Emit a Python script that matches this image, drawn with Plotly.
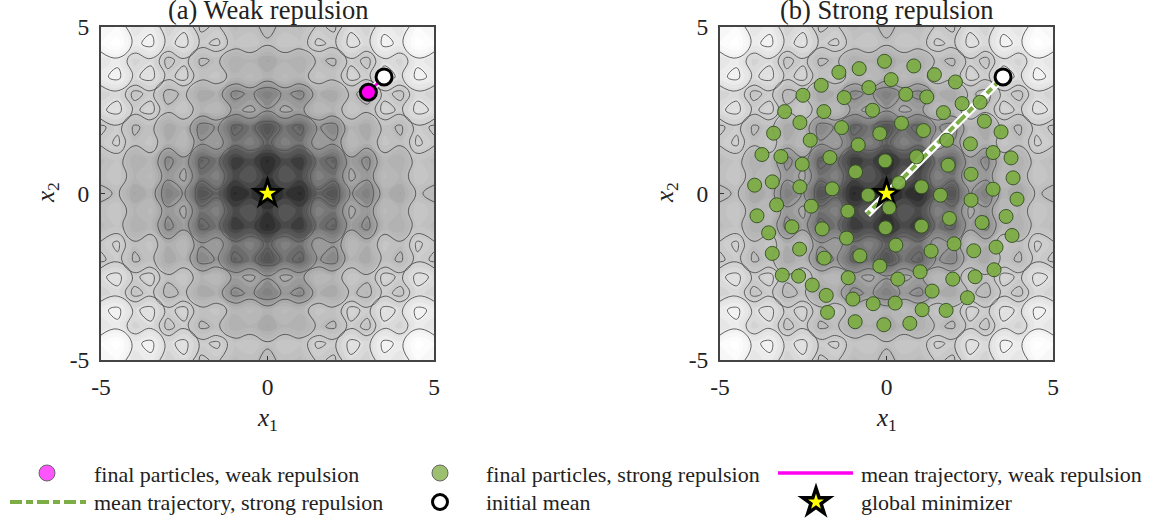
import plotly.graph_objects as go

# Background surface: NOT exact data. Hand-built estimate: grey anchors read by eye along the axes
# of the picture and combined by hand into one quadrant (x, y = 0, 0.5, ... 5), then mirrored
# because the picture is symmetric. Contour levels were chosen by eye to resemble the drawn lines.
half_axis = [0, 0.5, 1, 1.5, 2, 2.5, 3, 3.5, 4, 4.5, 5]
quadrant = [
    [50, 70, 60, 95, 85, 130, 112, 156, 145, 175, 166],
    [70, 90, 80, 115, 105, 150, 132, 169, 159, 187, 178],
    [60, 80, 70, 105, 95, 140, 122, 162, 153, 181, 172],
    [95, 115, 105, 140, 130, 166, 154, 184, 175, 203, 193],
    [85, 105, 95, 130, 120, 159, 147, 178, 169, 197, 187],
    [130, 150, 140, 166, 159, 187, 176, 206, 197, 224, 215],
    [112, 132, 122, 154, 147, 176, 165, 195, 185, 213, 204],
    [156, 169, 162, 184, 178, 206, 195, 224, 215, 243, 234],
    [145, 159, 153, 175, 169, 197, 185, 215, 206, 234, 224],
    [175, 187, 181, 203, 197, 224, 213, 243, 234, 262, 252],
    [166, 178, 172, 193, 187, 215, 204, 234, 224, 252, 243],
]
contour_levels = [92, 100, 128, 145, 172, 190, 200, 218, 238]
grid_axis = [-v for v in half_axis[:0:-1]] + half_axis
rows = [r[:0:-1] + r for r in quadrant]
grid_z = rows[:0:-1] + rows

initial_mean = ([3.5], [3.5])
minimizer = ([0], [0])
weak_final = ([3.03], [3.04])
weak_traj_x = [3.5, 3.03]
weak_traj_y = [3.5, 3.04]
strong_traj_x = [3.5, 0.0, -0.58]
strong_traj_y = [3.5, 0.0, -0.62]
strong_x = [-1.43, -0.82, -0.06, -1.96, -2.51, -1.27, -0.53, -3.06, -1.88, -0.42, -2.60, -1.35,
            -3.39, -0.20, -2.29, -0.85, -3.74, -3.17, -1.70, -2.53, -0.04, -0.93, -3.96, -3.43,
            -2.60, -1.63, -0.55, 0.82, 0.14, 1.44, 2.07, 0.58, 1.21, 2.27, 2.81, 1.71, 2.94,
            0.45, 1.11, 3.44, 1.81, 2.52, 3.20, 3.74, 0.90, 1.85, 2.54, 3.80, 0.37, 1.05, 3.20,
            1.62, -3.30, -3.89, -2.26, -1.16, -2.84, -1.93, -3.54, -1.20, -2.61, -3.43, -1.87,
            -0.80, -0.20, -3.13, -2.64, -1.15, -2.23, -1.81, -1.01, -0.40, -1.77, -0.94, -0.08,
            0.08, 2.54, 3.92, 3.59, 1.89, 2.87, 3.77, 1.05, 0.28, 1.34, 2.03, 2.62, 3.29, 1.01,
            3.23, 0.34, 1.99, 2.66, 1.37, 2.43, 0.26, 1.07, 1.79, 0.70, -0.03]
strong_y = [3.64, 3.75, 3.97, 3.25, 2.95, 2.88, 3.18, 2.46, 2.46, 2.50, 2.13, 1.98,
            1.81, 1.80, 1.60, 1.46, 1.17, 1.11, 1.08, 0.88, 0.98, 0.65, 0.25, 0.35,
            0.20, 0.14, -0.05, 3.83, 3.42, 3.57, 3.35, 2.98, 2.90, 2.70, 2.74, 2.43, 2.17,
            2.11, 1.89, 1.85, 1.60, 1.49, 1.23, 1.07, 1.10, 0.85, 0.58, 0.47, 0.32, 0.20, 0.13,
            -0.05, -0.34, -0.67, -0.38, -0.53, -1.00, -1.06, -1.18, -1.34, -1.67, -1.80, -1.94,
            -1.87, -2.18, -2.45, -2.48, -2.53, -2.75, -3.06, -3.17, -3.31, -3.57, -3.85, -3.94,
            -0.43, -0.20, -0.17, -0.69, -0.75, -0.87, -1.26, -0.98, -1.55, -1.73, -1.51, -1.72, -1.61, -2.35,
            -2.29, -2.57, -2.57, -2.50, -2.93, -3.13, -3.29, -3.49, -3.51, -3.90, -1.03]

tick_vals = [-5, 0, 5]
tick_text = ["-5", "0", "5"]
titles = ["(a) Weak repulsion", "(b) Strong repulsion"]
legend_row1 = ["final particles, weak repulsion", "final particles, strong repulsion", "mean trajectory, weak repulsion"]
legend_row2 = ["mean trajectory, strong repulsion", "initial mean", "global minimizer"]

W, H = 1156, 519
SERIF = "Liberation Serif"
TXT = "#222222"
GREEN = "#7dad45"
MAGENTA = "#ff00f0"
DASH = "12px,4px,7px,4px"
ZMAX = 262
grey_scale = [[0, "rgb(0,0,0)"], [50 / ZMAX, "rgb(48,48,48)"], [70 / ZMAX, "rgb(80,80,80)"],
              [100 / ZMAX, "rgb(125,125,125)"], [150 / ZMAX, "rgb(178,178,178)"],
              [200 / ZMAX, "rgb(208,208,208)"], [240 / ZMAX, "rgb(240,240,240)"], [1, "rgb(255,255,255)"]]

fig = go.Figure()


def add_panel(xa, ya):
    fig.add_trace(go.Contour(x=grid_axis, y=grid_axis, z=grid_z, xaxis=xa, yaxis=ya, showscale=False,
                             colorscale=grey_scale, zmin=0, zmax=ZMAX, hoverinfo="skip",
                             contours=dict(coloring="fill", start=20, end=262, size=7),
                             line=dict(width=0, smoothing=1.3)))
    for level in contour_levels:
        fig.add_trace(go.Contour(x=grid_axis, y=grid_axis, z=grid_z, xaxis=xa, yaxis=ya, showscale=False,
                                 hoverinfo="skip",
                                 contours=dict(coloring="none", start=level, end=level + 1, size=5),
                                 line=dict(width=0.9, color="#505050", smoothing=1.3)))


def add_star(xa, ya):
    fig.add_trace(go.Scatter(x=minimizer[0], y=minimizer[1], xaxis=xa, yaxis=ya, mode="markers",
                             marker=dict(symbol="star", size=26, color="#000000")))
    fig.add_trace(go.Scatter(x=minimizer[0], y=minimizer[1], xaxis=xa, yaxis=ya, mode="markers",
                             marker=dict(symbol="star", size=13, color="#ffff00")))


def add_initial(xa, ya):
    fig.add_trace(go.Scatter(x=initial_mean[0], y=initial_mean[1], xaxis=xa, yaxis=ya, mode="markers",
                             marker=dict(size=16, color="#ffffff", line=dict(color="#000000", width=3))))


add_panel("x", "y")
fig.add_trace(go.Scatter(x=weak_traj_x, y=weak_traj_y, xaxis="x", yaxis="y", mode="lines",
                         line=dict(color="#ffffff", width=6)))
fig.add_trace(go.Scatter(x=weak_traj_x, y=weak_traj_y, xaxis="x", yaxis="y", mode="lines",
                         line=dict(color=MAGENTA, width=3)))
fig.add_trace(go.Scatter(x=weak_final[0], y=weak_final[1], xaxis="x", yaxis="y", mode="markers",
                         marker=dict(size=16, color=MAGENTA, line=dict(color="#000000", width=3))))
add_star("x", "y")
add_initial("x", "y")

add_panel("x2", "y2")
fig.add_trace(go.Scatter(x=strong_traj_x, y=strong_traj_y, xaxis="x2", yaxis="y2", mode="lines",
                         line=dict(color="#ffffff", width=8)))
fig.add_trace(go.Scatter(x=strong_traj_x, y=strong_traj_y, xaxis="x2", yaxis="y2", mode="lines",
                         line=dict(color=GREEN, width=4, dash=DASH)))
add_star("x2", "y2")
fig.add_trace(go.Scatter(x=strong_x, y=strong_y, xaxis="x2", yaxis="y2", mode="markers",
                         marker=dict(size=14, color=GREEN, opacity=0.93, line=dict(color="#34501f", width=1))))
add_initial("x2", "y2")

# Legend, drawn on a pixel-scaled overlay axis.
leg = dict(xaxis="x3", yaxis="y3")
fig.add_trace(go.Scatter(x=[47], y=[473], mode="markers", **leg,
                         marker=dict(size=16, color="#ff55ff", line=dict(color="#666666", width=1))))
fig.add_trace(go.Scatter(x=[440], y=[473], mode="markers", **leg,
                         marker=dict(size=16, color="#9cc070", line=dict(color="#666666", width=1))))
fig.add_trace(go.Scatter(x=[778, 853], y=[473, 473], mode="lines", **leg,
                         line=dict(color=MAGENTA, width=3.5)))
fig.add_trace(go.Scatter(x=[10, 86], y=[502, 502], mode="lines", **leg,
                         line=dict(color=GREEN, width=4, dash=DASH)))
fig.add_trace(go.Scatter(x=[440], y=[502], mode="markers", **leg,
                         marker=dict(size=15, color="#ffffff", line=dict(color="#000000", width=3))))
fig.add_trace(go.Scatter(x=[816], y=[502], mode="markers", **leg,
                         marker=dict(symbol="star", size=28, color="#000000")))
fig.add_trace(go.Scatter(x=[816], y=[502], mode="markers", **leg,
                         marker=dict(symbol="star", size=12, color="#ffff00")))

annotations = []
for text, px in zip(legend_row1, [92, 484, 859]):
    annotations.append(dict(x=px, y=474, xref="x3", yref="y3", text=text, showarrow=False, xanchor="left",
                            font=dict(family=SERIF, size=22, color=TXT)))
for text, px in zip(legend_row2, [92, 484, 859]):
    annotations.append(dict(x=px, y=502, xref="x3", yref="y3", text=text, showarrow=False, xanchor="left",
                            font=dict(family=SERIF, size=22, color=TXT)))
for text, px in zip(titles, [267.5, 886.5]):
    annotations.append(dict(x=px, y=10, xref="x3", yref="y3", text=text, showarrow=False,
                            font=dict(family=SERIF, size=26.5, color=TXT)))
for px in [267.5, 886.5]:
    annotations.append(dict(x=px, y=419, xref="x3", yref="y3", text="<i>x</i><sub>1</sub>", showarrow=False,
                            font=dict(family=SERIF, size=25, color=TXT)))
for px in [47, 666]:
    annotations.append(dict(x=px, y=193, xref="x3", yref="y3", text="<i>x</i><sub>2</sub>", showarrow=False,
                            textangle=-90, font=dict(family=SERIF, size=25, color=TXT)))

axis_style = dict(range=[-5, 5], tickmode="array", tickvals=tick_vals, ticktext=tick_text, ticks="inside",
                  ticklen=4, tickwidth=1, tickcolor="#333333", showgrid=False, zeroline=False, showline=True,
                  linecolor="#444444", linewidth=2, mirror=True, automargin=False, ticklabelstandoff=5,
                  tickfont=dict(family=SERIF, size=23.5, color=TXT))

fig.update_layout(
    width=W, height=H, margin=dict(l=0, r=0, t=0, b=0), showlegend=False,
    paper_bgcolor="#ffffff", plot_bgcolor="rgba(0,0,0,0)", annotations=annotations,
    xaxis=dict(domain=[101 / W, 434 / W], anchor="y", **axis_style),
    yaxis=dict(domain=[1 - 360 / H, 1 - 27 / H], anchor="x", **axis_style),
    xaxis2=dict(domain=[720 / W, 1053 / W], anchor="y2", **axis_style),
    yaxis2=dict(domain=[1 - 360 / H, 1 - 27 / H], anchor="x2", **axis_style),
    xaxis3=dict(domain=[0, 1], range=[0, W], visible=False, anchor="y3", automargin=False),
    yaxis3=dict(domain=[0, 1], range=[H, 0], visible=False, anchor="x3", automargin=False),
)
fig.write_html("out.html", config={"displayModeBar": False}, post_script="document.body.style.margin='0';")
